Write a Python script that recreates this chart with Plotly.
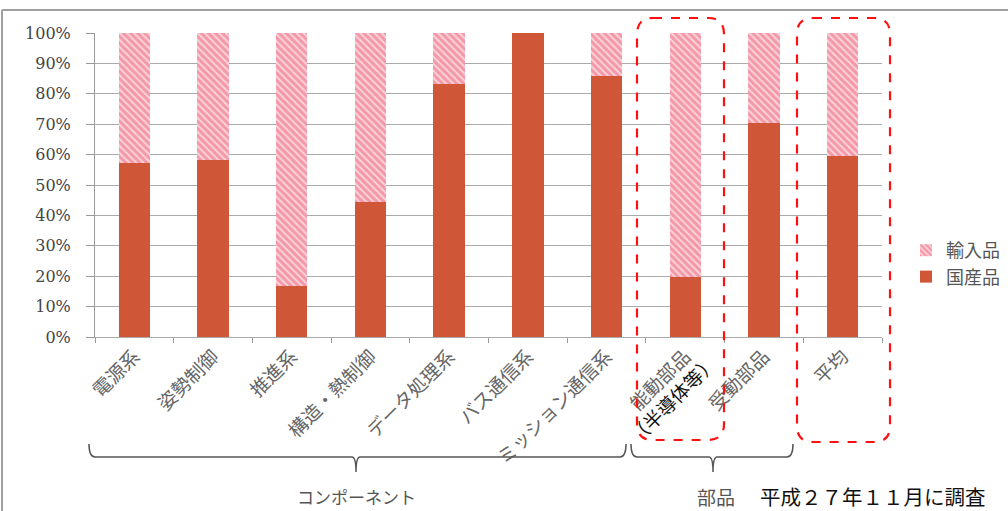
import plotly.graph_objects as go

categories = ["電源系", "姿勢制御", "推進系", "構造・熱制御", "データ処理系",
              "バス通信系", "ミッション通信系", "能動部品", "受動部品", "平均"]
domestic = [0.572, 0.582, 0.169, 0.445, 0.832, 1.00, 0.859, 0.197, 0.704, 0.595]
imported = [round(1 - d, 3) for d in domestic]
y_ticks = [i / 10 for i in range(11)]
y_tick_labels = [f"{i * 10}%" for i in range(11)]

W, H = 1008, 511
L, R, T, B = 95, 882, 33, 337


def xp(px):
    return (px - L) / (R - L)


def yp(py):
    return (B - py) / (B - T)


fig = go.Figure()
fig.add_trace(go.Bar(
    name="国産品", x=categories, y=domestic, legendrank=2,
    marker=dict(color="#CF5636", line=dict(width=0)),
))
fig.add_trace(go.Bar(
    name="輸入品", x=categories, y=imported, legendrank=1,
    marker=dict(color="#EE5E78", line=dict(width=0),
                pattern=dict(shape="\\", fgcolor="#EE5E78", bgcolor="#FAD3D9",
                             size=5, solidity=0.6)),
))

shapes = []
# outer frame (top & left)
shapes.append(dict(type="line", xref="paper", yref="paper",
                   x0=xp(2), x1=xp(1010), y0=yp(10), y1=yp(10),
                   line=dict(color="#A0A0A0", width=2)))
shapes.append(dict(type="line", xref="paper", yref="paper",
                   x0=xp(2), x1=xp(2), y0=yp(10), y1=yp(515),
                   line=dict(color="#A0A0A0", width=2)))


def rounded_rect(x0, y0, x1, y1, r=16):
    rx = r / (R - L)
    ry = r / (B - T)
    X0, X1 = xp(x0), xp(x1)
    Y0, Y1 = yp(y0), yp(y1)  # Y0 top, Y1 bottom
    return (f"M {X0 + rx},{Y0} L {X1 - rx},{Y0} Q {X1},{Y0} {X1},{Y0 - ry} "
            f"L {X1},{Y1 + ry} Q {X1},{Y1} {X1 - rx},{Y1} "
            f"L {X0 + rx},{Y1} Q {X0},{Y1} {X0},{Y1 + ry} "
            f"L {X0},{Y0 - ry} Q {X0},{Y0} {X0 + rx},{Y0} Z")


for (a, b, c, d) in [(637, 18, 724, 440), (797, 18, 890, 442)]:
    shapes.append(dict(type="path", xref="paper", yref="paper",
                       path=rounded_rect(a, b, c, d),
                       line=dict(color="#FF1010", width=2.2, dash="dash")))


def brace(x0, x1, xc, y=457, top=444, tip=472):
    return (f"M {xp(x0)},{yp(top)} Q {xp(x0)},{yp(y)} {xp(x0 + 6)},{yp(y)} "
            f"L {xp(xc - 4)},{yp(y)} Q {xp(xc)},{yp(y)} {xp(xc)},{yp(tip)} "
            f"Q {xp(xc)},{yp(y)} {xp(xc + 4)},{yp(y)} "
            f"L {xp(x1 - 6)},{yp(y)} Q {xp(x1)},{yp(y)} {xp(x1)},{yp(top)}")


shapes.append(dict(type="path", xref="paper", yref="paper",
                   path=brace(89, 626, 356), line=dict(color="#555555", width=1.5)))
shapes.append(dict(type="path", xref="paper", yref="paper",
                   path=brace(631, 793, 713), line=dict(color="#555555", width=1.5)))

annotations = [
    dict(text="コンポーネント", xref="paper", yref="paper", x=xp(356), y=yp(497),
         xanchor="center", yanchor="middle", showarrow=False,
         font=dict(size=17, color="#555555", family="Noto Sans CJK JP")),
    dict(text="部品", xref="paper", yref="paper", x=xp(716), y=yp(496),
         xanchor="center", yanchor="middle", showarrow=False,
         font=dict(size=19, color="#555555", family="Noto Sans CJK JP")),
    dict(text="平成２７年１１月に調査", xref="paper", yref="paper", x=xp(758), y=yp(496),
         xanchor="left", yanchor="middle", showarrow=False,
         font=dict(size=20.5, color="#111111", family="Noto Sans CJK JP")),
    dict(text="（半導体等）", xref="paper", yref="paper", x=xp(672), y=yp(398),
         xanchor="center", yanchor="middle", textangle=-45, showarrow=False,
         font=dict(size=19, color="#111111", family="Noto Sans CJK JP")),
]

fig.update_layout(
    width=W, height=H,
    margin=dict(l=L, r=W - R, t=T, b=H - B, pad=0, autoexpand=False),
    barmode="stack", bargap=0.6,
    paper_bgcolor="white", plot_bgcolor="white",
    font=dict(family="Noto Sans CJK JP", color="#555555"),
    showlegend=True,
    legend=dict(x=xp(906), y=yp(232), xanchor="left", yanchor="top",
                traceorder="normal", font=dict(size=18, color="#555555"),
                itemwidth=30, bgcolor="rgba(0,0,0,0)"),
    shapes=shapes, annotations=annotations,
)
fig.update_xaxes(
    type="category", tickangle=-45, tickson="boundaries", ticks="outside",
    ticklen=5, tickcolor="#999999", showline=True, linecolor="#AAAAAA",
    showgrid=False, automargin=False,
    tickfont=dict(size=19, color="#666666", family="Noto Sans CJK JP"),
)
fig.update_yaxes(
    range=[0, 1], tickvals=y_ticks, ticktext=y_tick_labels,
    ticks="outside", ticklen=8, tickcolor="#999999",
    showline=True, linecolor="#999999", showgrid=True, gridcolor="#AAAAAA",
    gridwidth=1, zeroline=False, ticklabelstandoff=12, automargin=False,
    tickfont=dict(size=16, color="#444444", family="DejaVu Serif"),
)

fig.write_html("out.html", config={"displayModeBar": False},
               post_script="document.body.style.margin='0';")
